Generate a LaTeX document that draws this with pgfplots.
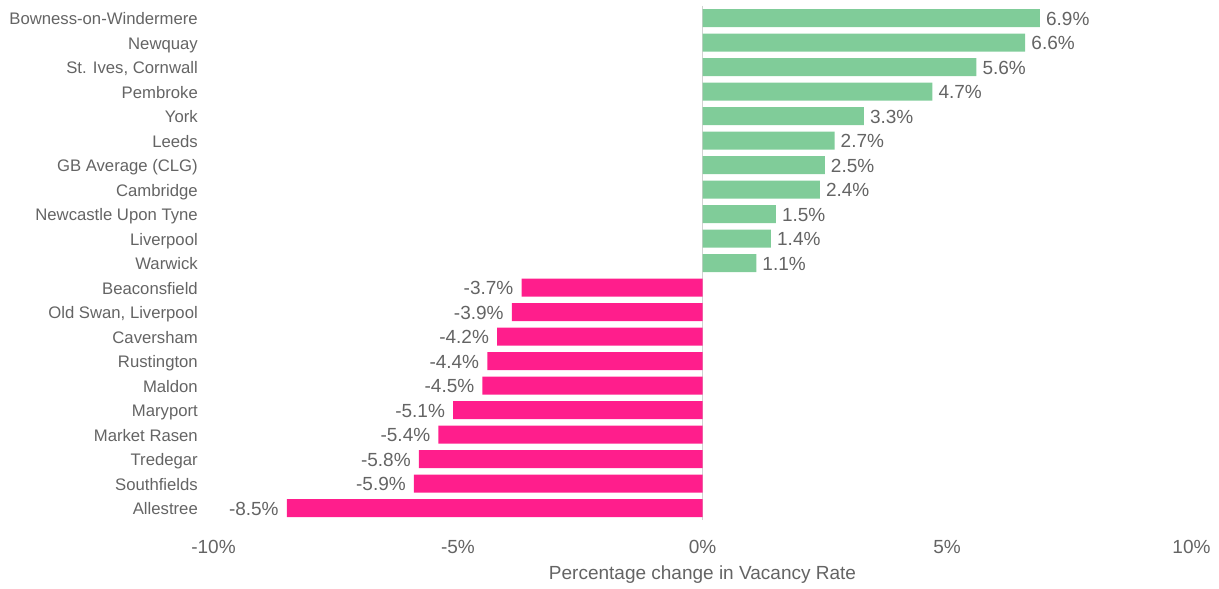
\documentclass[border=0pt]{standalone}
\usepackage{pgfplots}
\pgfplotsset{compat=1.18}
\usepackage{fontspec}
\setmainfont{Liberation Sans}
\definecolor{posgreen}{RGB}{128,204,153}
\definecolor{negpink}{RGB}{255,30,140}
\definecolor{txt}{RGB}{100,100,100}
\begin{document}
\begin{tikzpicture}[x=1pt,y=1pt]
\useasboundingbox (-213.5,-68.75) rectangle (1005.5,520.25);
\begin{axis}[
  at={(0,0)}, anchor=south west, scale only axis,
  width=978pt, height=514.5pt,
  xmin=-10, xmax=10, ymin=-0.5, ymax=20.5, y dir=reverse,
  axis line style={draw=none}, major tick length=0pt,
  /pgf/number format/assume math mode=true,
  xtick={-10,-5,0,5,10},
  xticklabel={\pgfmathprintnumber{\tick}\%},
  xticklabel style={anchor=base, inner sep=0pt, yshift=-33pt, font=\fontsize{19}{22}\selectfont, text=txt},
  ytick={0,...,20},
  yticklabels={Bowness-on-Windermere,Newquay,{St. Ives, Cornwall},Pembroke,York,Leeds,GB Average (CLG),Cambridge,Newcastle Upon Tyne,Liverpool,Warwick,Beaconsfield,{Old Swan, Liverpool},Caversham,Rustington,Maldon,Maryport,Market Rasen,Tredegar,Southfields,Allestree},
  yticklabel style={anchor=base east, inner sep=0pt, xshift=-15.5pt, yshift=-6.5pt, font=\fontsize{16.7}{19}\selectfont, text=txt},
  xlabel={Percentage change in Vacancy Rate},
  xlabel style={at={(axis description cs:0.5,0)}, anchor=base, inner sep=0pt, yshift=-59pt, font=\fontsize{19}{22}\selectfont, text=txt},
  xbar, bar width=18pt, bar shift=0pt,
  point meta=x,
  nodes near coords={\pgfmathprintnumber[fixed,fixed zerofill,precision=1]{\pgfplotspointmeta}\%},
  nodes near coords style={font=\fontsize{19}{22}\selectfont, text=txt, inner sep=0pt},
  clip=false,
]
\draw[gray!35, line width=0.8pt] (axis cs:0,-0.5) -- (axis cs:0,20.5);
\addplot[draw=none, fill=posgreen, every node near coord/.append style={anchor=base west, xshift=6pt, yshift=-7pt}] coordinates {
(6.9,0) (6.6,1) (5.6,2) (4.7,3) (3.3,4) (2.7,5) (2.5,6) (2.4,7) (1.5,8) (1.4,9) (1.1,10)
};
\addplot[draw=none, fill=negpink, every node near coord/.append style={anchor=base east, xshift=-8pt, yshift=-7pt}] coordinates {
(-3.7,11) (-3.9,12) (-4.2,13) (-4.4,14) (-4.5,15) (-5.1,16) (-5.4,17) (-5.8,18) (-5.9,19) (-8.5,20)
};
\end{axis}
\end{tikzpicture}
\end{document}
